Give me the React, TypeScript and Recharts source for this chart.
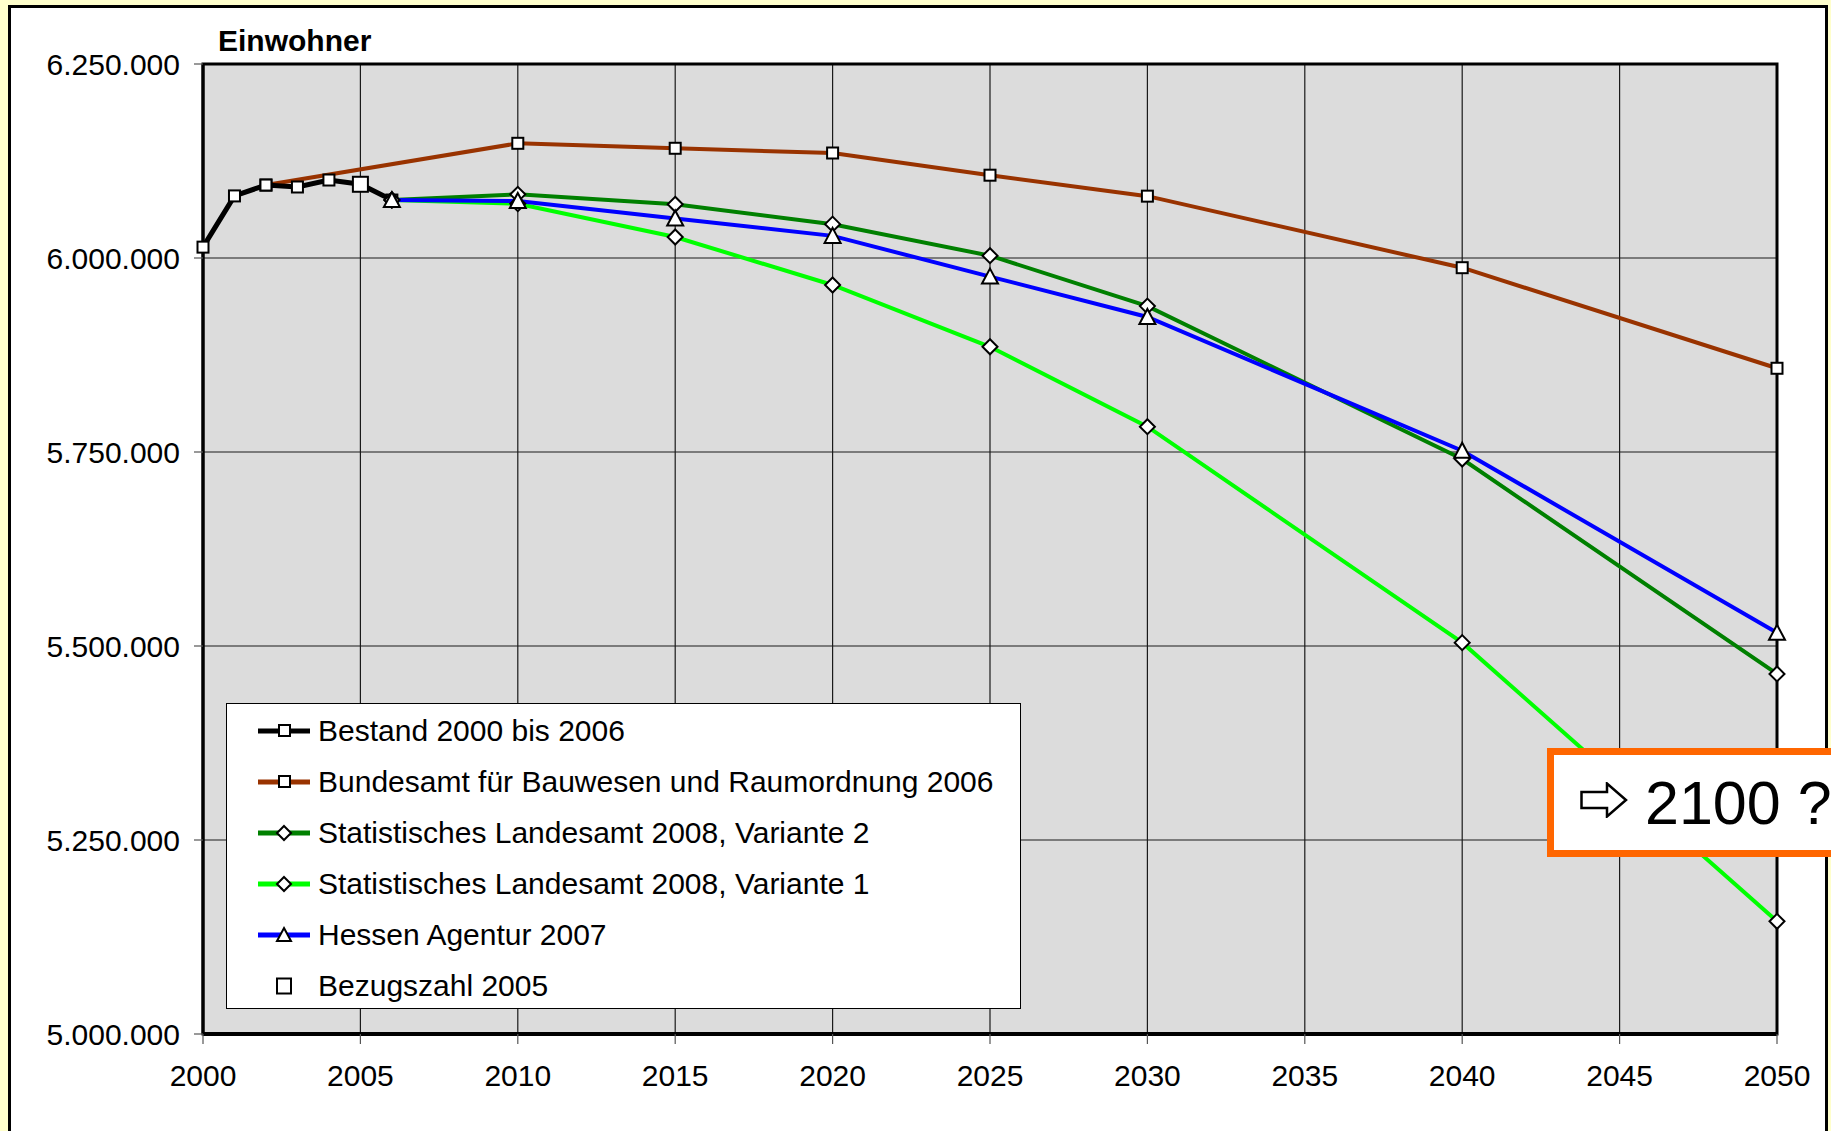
import { CartesianGrid, Line, LineChart, ReferenceArea, XAxis, YAxis } from "recharts";

const bestandYears = [2000, 2001, 2002, 2003, 2004, 2005, 2006];
const bestandValues = [6014000, 6080000, 6094000, 6091500, 6100500, 6095000, 6074700];

const bbrYears = [2002, 2010, 2015, 2020, 2025, 2030, 2040, 2050];
const bbrValues = [6094000, 6147800, 6141400, 6135300, 6106700, 6079700, 5987500, 5857900];

const projYears = [2006, 2010, 2015, 2020, 2025, 2030, 2040, 2050];
const slV2Values = [6074700, 6082000, 6069200, 6043600, 6003000, 5938000, 5741000, 5464000];
const slV1Values = [6074700, 6070000, 6027100, 5965200, 5885600, 5782600, 5504300, 5145200];
const hessenValues = [6074700, 6073500, 6051000, 6028500, 5976000, 5924000, 5751700, 5517000];

const bezugYears = [2005];
const bezugValues = [6095000];

const yearTicks = [2000, 2005, 2010, 2015, 2020, 2025, 2030, 2035, 2040, 2045, 2050];
const valueTicks = [5000000, 5250000, 5500000, 5750000, 6000000, 6250000];

const legendItems = [
  { name: "Bestand 2000 bis 2006", color: "#000000", marker: "square", line: true },
  { name: "Bundesamt für Bauwesen und Raumordnung 2006", color: "#993300", marker: "square", line: true },
  { name: "Statistisches Landesamt 2008, Variante 2", color: "#008000", marker: "diamond", line: true },
  { name: "Statistisches Landesamt 2008, Variante 1", color: "#00FF00", marker: "diamond", line: true },
  { name: "Hessen Agentur 2007", color: "#0000FF", marker: "triangle", line: true },
  { name: "Bezugszahl 2005", color: "#000000", marker: "bigsquare", line: false },
];

const FONT = '"Liberation Sans", Arial, Helvetica, sans-serif';
const FS = 30;

const toRows = (years: number[], values: number[]) =>
  years.map((year, i) => ({ year, value: values[i] }));

const fmt = (v: number) => String(v).replace(/\B(?=(\d{3})+(?!\d))/g, ".");

function squareDot(size: number) {
  return (p: any) => {
    if (p.cx == null || p.cy == null) return <g key={p.index} />;
    return (
      <rect
        key={p.index}
        x={p.cx - size / 2}
        y={p.cy - size / 2}
        width={size}
        height={size}
        fill="#fff"
        stroke="#000"
        strokeWidth={2}
      />
    );
  };
}

const diamondDot = (p: any) => {
  if (p.cx == null || p.cy == null) return <g key={p.index} />;
  const r = 7.5;
  const { cx, cy } = p;
  return (
    <polygon
      key={p.index}
      points={`${cx},${cy - r} ${cx + r},${cy} ${cx},${cy + r} ${cx - r},${cy}`}
      fill="#fff"
      stroke="#000"
      strokeWidth={2}
    />
  );
};

const triangleDot = (p: any) => {
  if (p.cx == null || p.cy == null) return <g key={p.index} />;
  const { cx, cy } = p;
  return (
    <polygon
      key={p.index}
      points={`${cx},${cy - 8} ${cx + 8},${cy + 7} ${cx - 8},${cy + 7}`}
      fill="#fff"
      stroke="#000"
      strokeWidth={2}
    />
  );
};

function LegendMarker({ marker }: { marker: string }) {
  if (marker === "square") return <rect x={21} y={-6} width={11} height={11} fill="#fff" stroke="#000" strokeWidth={2} />;
  if (marker === "bigsquare") return <rect x={19} y={-7.5} width={14} height={15} fill="#fff" stroke="#000" strokeWidth={2} />;
  if (marker === "diamond") return <polygon points="26,-7 33,0 26,7 19,0" fill="#fff" stroke="#000" strokeWidth={2} />;
  return <polygon points="26,-7 33,6 19,6" fill="#fff" stroke="#000" strokeWidth={2} />;
}

function ChartLegend() {
  return (
    <div
      style={{
        position: "absolute",
        left: 226,
        top: 703,
        width: 795,
        height: 306,
        boxSizing: "border-box",
        border: "1.5px solid #000",
        background: "#fff",
        paddingTop: 1,
      }}
    >
      {legendItems.map((item) => (
        <div key={item.name} style={{ display: "flex", alignItems: "center", height: 51 }}>
          <svg width={52} height={24} style={{ marginLeft: 31, marginRight: 8 }}>
            <g transform="translate(0,12)">
              {item.line && <line x1={0} x2={52} y1={0} y2={0} stroke={item.color} strokeWidth={5} />}
              <LegendMarker marker={item.marker} />
            </g>
          </svg>
          <span style={{ fontSize: FS, color: "#000", whiteSpace: "nowrap" }}>{item.name}</span>
        </div>
      ))}
    </div>
  );
}

export default function App() {
  return (
    <div
      style={{
        position: "absolute",
        left: 0,
        top: 0,
        width: 1831,
        height: 1131,
        overflow: "hidden",
        background: "#FFFFCC",
        fontFamily: FONT,
      }}
    >
      <div
        style={{
          position: "absolute",
          left: 8,
          top: 5,
          width: 1820,
          height: 1140,
          boxSizing: "border-box",
          border: "3px solid #000",
          background: "#fff",
        }}
      />
      <div style={{ position: "absolute", left: 0, top: 0 }}>
        <LineChart width={1831} height={1131} margin={{ top: 64, right: 54, left: 83, bottom: 37 }}>
          <CartesianGrid stroke="#1a1a1a" strokeWidth={1.2} fill="#DCDCDC" />
          <XAxis
            type="number"
            dataKey="year"
            domain={[2000, 2050]}
            ticks={yearTicks}
            height={60}
            axisLine={{ stroke: "#000", strokeWidth: 4 }}
            tickLine={{ stroke: "#555", strokeWidth: 1.2 }}
            tickSize={10}
            tickMargin={21}
            tick={{ fontSize: FS, fill: "#000", fontFamily: FONT }}
            interval={0}
          />
          <YAxis
            type="number"
            dataKey="value"
            domain={[5000000, 6250000]}
            ticks={valueTicks}
            width={120}
            axisLine={{ stroke: "#000", strokeWidth: 3 }}
            tickLine={{ stroke: "#555", strokeWidth: 1.2 }}
            tickSize={9}
            tickMargin={14}
            tickFormatter={fmt}
            tick={{ fontSize: FS, fill: "#000", fontFamily: FONT }}
            interval={0}
          />
          <ReferenceArea x1={2000} x2={2050} y1={5000000} y2={6250000} fill="none" stroke="#000" strokeWidth={3} />
          <Line
            data={toRows(bbrYears, bbrValues)}
            dataKey="value"
            name="Bundesamt für Bauwesen und Raumordnung 2006"
            stroke="#993300"
            strokeWidth={4}
            dot={squareDot(11)}
            isAnimationActive={false}
          />
          <Line
            data={toRows(bestandYears, bestandValues)}
            dataKey="value"
            name="Bestand 2000 bis 2006"
            stroke="#000"
            strokeWidth={5}
            dot={squareDot(11)}
            isAnimationActive={false}
          />
          <Line
            data={toRows(projYears, slV1Values)}
            dataKey="value"
            name="Statistisches Landesamt 2008, Variante 1"
            stroke="#00FF00"
            strokeWidth={4}
            dot={diamondDot}
            isAnimationActive={false}
          />
          <Line
            data={toRows(projYears, slV2Values)}
            dataKey="value"
            name="Statistisches Landesamt 2008, Variante 2"
            stroke="#008000"
            strokeWidth={4}
            dot={diamondDot}
            isAnimationActive={false}
          />
          <Line
            data={toRows(projYears, hessenValues)}
            dataKey="value"
            name="Hessen Agentur 2007"
            stroke="#0000FF"
            strokeWidth={4}
            dot={triangleDot}
            isAnimationActive={false}
          />
          <Line
            data={toRows(bezugYears, bezugValues)}
            dataKey="value"
            name="Bezugszahl 2005"
            stroke="none"
            dot={squareDot(15)}
            isAnimationActive={false}
          />
        </LineChart>
      </div>
      <div
        style={{
          position: "absolute",
          left: 218,
          top: 23,
          fontSize: FS,
          fontWeight: "bold",
          color: "#000",
          lineHeight: "36px",
        }}
      >
        Einwohner
      </div>
      <ChartLegend />
      <div
        style={{
          position: "absolute",
          left: 1547,
          top: 748,
          width: 420,
          height: 109,
          boxSizing: "border-box",
          border: "7px solid #FF6600",
          background: "#fff",
        }}
      >
        <svg width={50} height={36} style={{ position: "absolute", left: 26, top: 27 }}>
          <polygon
            points="1.5,10 27,10 27,1.5 46,18 27,34.5 27,26 1.5,26"
            fill="#fff"
            stroke="#000"
            strokeWidth={2.5}
          />
        </svg>
        <div
          style={{
            position: "absolute",
            left: 91,
            top: 10,
            fontSize: 61,
            lineHeight: "76px",
            color: "#000",
            whiteSpace: "nowrap",
          }}
        >
          2100 ?
        </div>
      </div>
    </div>
  );
}
